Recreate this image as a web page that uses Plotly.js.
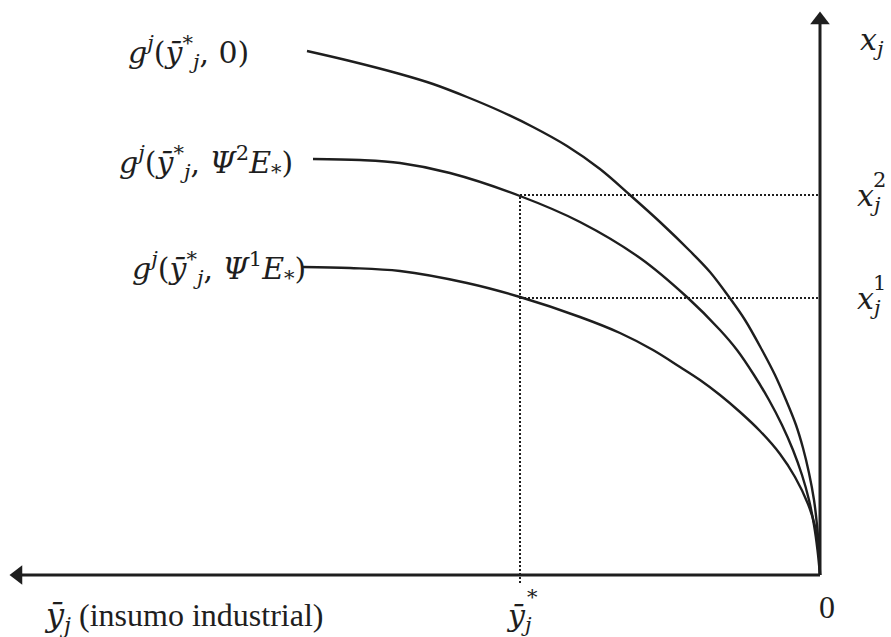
<!DOCTYPE html>
<html>
<head>
<meta charset="utf-8">
<script src="https://cdn.plot.ly/plotly-3.0.1.min.js"></script>
<style>html,body{margin:0;padding:0;background:#fff;}#chart{width:891px;height:637px;}</style>
</head>
<body>
<div id="chart"></div>
<script>
const curve1X = [513, 470, 420, 387, 353, 320, 287, 253, 220, 190, 160, 130, 110, 91, 75, 58, 45, 34, 24, 17, 11, 6, 3, 1, 0];
const curve1Y = [524, 514, 501, 491, 478, 464, 448, 429, 406, 380, 353, 324, 303, 278, 255, 225, 200, 175, 150, 127, 102, 75, 50, 25, 0];
const curve2X = [507, 460, 420, 370, 300, 240, 180, 132, 100, 83, 66, 51, 38, 27, 18, 11, 6, 2.5, 0];
const curve2Y = [416, 415, 412, 402, 379, 353, 317, 277, 245, 225, 200, 175, 150, 125, 100, 75, 50, 25, 0];
const curve3X = [517, 470, 420, 353, 300, 240, 200, 167, 140, 120, 100, 80, 60, 40, 25, 12, 5, 1.5, 0];
const curve3Y = [308, 307, 304, 292, 278, 258, 242, 225, 208, 195, 180, 163, 144, 121, 98, 71, 49, 29, 0];

const yStar = 300;      // ȳ*_j on the horizontal axis
const x2Level = 380;    // x_j^2
const x1Level = 277;    // x_j^1
const xAxisEnd = 810;   // arrow tip of horizontal axis
const yAxisEnd = 563;   // arrow tip of vertical axis

const ink = '#1e1e1e';
const curveLine = {color: ink, width: 2.4, shape: 'spline', smoothing: 1};
const dotLine = {color: ink, width: 2, dash: '2px,2px'};

const traces = [
  {x: curve1X, y: curve1Y, mode: 'lines', line: curveLine},
  {x: curve2X, y: curve2Y, mode: 'lines', line: curveLine},
  {x: curve3X, y: curve3Y, mode: 'lines', line: curveLine},
  // dotted guides
  {x: [yStar, yStar], y: [-8, x2Level], mode: 'lines', line: dotLine},
  {x: [yStar, 0], y: [x2Level, x2Level], mode: 'lines', line: dotLine},
  {x: [yStar, 0], y: [x1Level, x1Level], mode: 'lines', line: dotLine},
  // axes
  {x: [0, xAxisEnd - 12], y: [0, 0], mode: 'lines', line: {color: ink, width: 3}},
  {x: [0, 0], y: [0, yAxisEnd - 12], mode: 'lines', line: {color: ink, width: 3}},
  {x: [xAxisEnd - 8], y: [0], mode: 'markers', marker: {symbol: 'triangle-left', size: 17, color: ink}},
  {x: [0], y: [yAxisEnd - 8], mode: 'markers', marker: {symbol: 'triangle-up', size: 17, color: ink}}
];

const mathFont = {family: 'DejaVu Serif, serif', size: 30, color: ink};
const smallFont = {family: 'DejaVu Serif, serif', size: 21, color: ink};
const textFont = {family: 'Liberation Serif, serif', size: 32, color: ink};
const ybar = '<i>ȳ</i>';

const annotations = [
  {x: 694, y: 523, text: '<i>g</i><sup><i>j</i></sup>(' + ybar + '<sup>*</sup><sub><i>j</i></sub>, 0)', xanchor: 'left', yanchor: 'middle'},
  {x: 703, y: 413, text: '<i>g</i><sup><i>j</i></sup>(' + ybar + '<sup>*</sup><sub><i>j</i></sub>, <i>Ψ</i><sup>2</sup><i>E</i><sub>*</sub>)', xanchor: 'left', yanchor: 'middle'},
  {x: 690, y: 307, text: '<i>g</i><sup><i>j</i></sup>(' + ybar + '<sup>*</sup><sub><i>j</i></sub>, <i>Ψ</i><sup>1</sup><i>E</i><sub>*</sub>)', xanchor: 'left', yanchor: 'middle'},
  {x: -38, y: 534, text: '<i>x</i><sub><i>j</i></sub>', xanchor: 'left', yanchor: 'middle'},
  {x: -35, y: 378, text: '<i>x</i><sub><i>j</i></sub>', xanchor: 'left', yanchor: 'middle'},
  {x: -59, y: 395, text: '2', xanchor: 'center', yanchor: 'middle', font: smallFont},
  {x: -35, y: 275, text: '<i>x</i><sub><i>j</i></sub>', xanchor: 'left', yanchor: 'middle'},
  {x: -59, y: 292, text: '1', xanchor: 'center', yanchor: 'middle', font: smallFont},
  {x: -7, y: -32, text: '0', xanchor: 'center', yanchor: 'middle', font: textFont},
  {x: yStar + 1, y: -42, text: ybar + '<sub><i>j</i></sub>', xanchor: 'center', yanchor: 'middle'},
  {x: yStar - 12, y: -22, text: '*', xanchor: 'center', yanchor: 'middle', font: smallFont},
  {x: 778, y: -42, text: '<span style="font-family:DejaVu Serif">' + ybar + '<sub><i>j</i></sub></span> (insumo industrial)', xanchor: 'left', yanchor: 'middle', font: textFont}
].map(a => Object.assign({xref: 'x', yref: 'y', showarrow: false, font: mathFont}, a));

const layout = {
  width: 891, height: 637,
  margin: {l: 0, r: 0, t: 0, b: 0},
  paper_bgcolor: '#ffffff', plot_bgcolor: '#ffffff',
  showlegend: false,
  xaxis: {range: [820, -71], visible: false, fixedrange: true},
  yaxis: {range: [-62, 575], visible: false, fixedrange: true},
  annotations: annotations
};

Plotly.newPlot('chart', traces, layout, {staticPlot: true});
</script>
</body>
</html>
